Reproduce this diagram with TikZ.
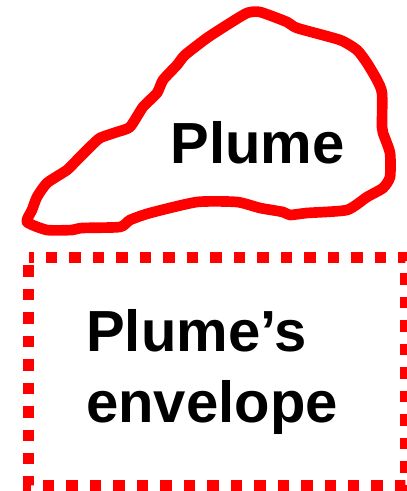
\documentclass[tikz,border=0pt]{standalone}
\usepackage{fontspec}
\setmainfont{Liberation Sans}
\usepackage{tikz}
\usetikzlibrary{positioning}
\definecolor{plumered}{RGB}{255,0,0}

\begin{document}
\begin{tikzpicture}[x=0.75pt, y=-0.75pt,
    plumeline/.style={draw=plumered, line width=8pt, line join=round, line cap=round},
    envbox/.style={draw=plumered, line width=8.6pt, dash pattern=on 8.6pt off 9pt, dash phase=4.5pt},
    label/.style={inner sep=0pt, font=\fontsize{43.5}{53.25}\selectfont\bfseries, align=left}
]
    \useasboundingbox (0,0) rectangle (406,491);

    % Plume
    \draw[plumeline] plot[smooth cycle, tension=0.35] coordinates {
        (27,222) (47,230) (72,230) (82,228) (120,227) (130,220) (150,213)
        (197,202) (237,202) (260,208) (283,212) (290,215) (307,213) (347,210)
        (367,197) (383,188) (390,177) (390,153) (383,133) (382,127) (382,93)
        (377,80) (367,63) (357,50) (340,40) (297,28) (287,22) (260,12)
        (247,13) (227,25) (207,38) (185,55) (177,65) (163,80) (157,93)
        (143,107) (130,127) (117,132) (100,138) (90,147) (77,160) (67,170)
        (47,183) (37,197) (32,210)};
    \node[label, anchor=base] (plume) at (257.5,164) {Plume};

    % Envelope
    \coordinate (envnw) at (28.5,257.5);
    \coordinate (envse) at (405.5,485.5);
    \draw[envbox] (envnw) -- (envnw -| envse) -- (envse) -- (envse -| envnw) -- cycle;
    \node[label, anchor=base west] (envelope) at (86,422.7) {Plume’s\\envelope};
\end{tikzpicture}
\end{document}
